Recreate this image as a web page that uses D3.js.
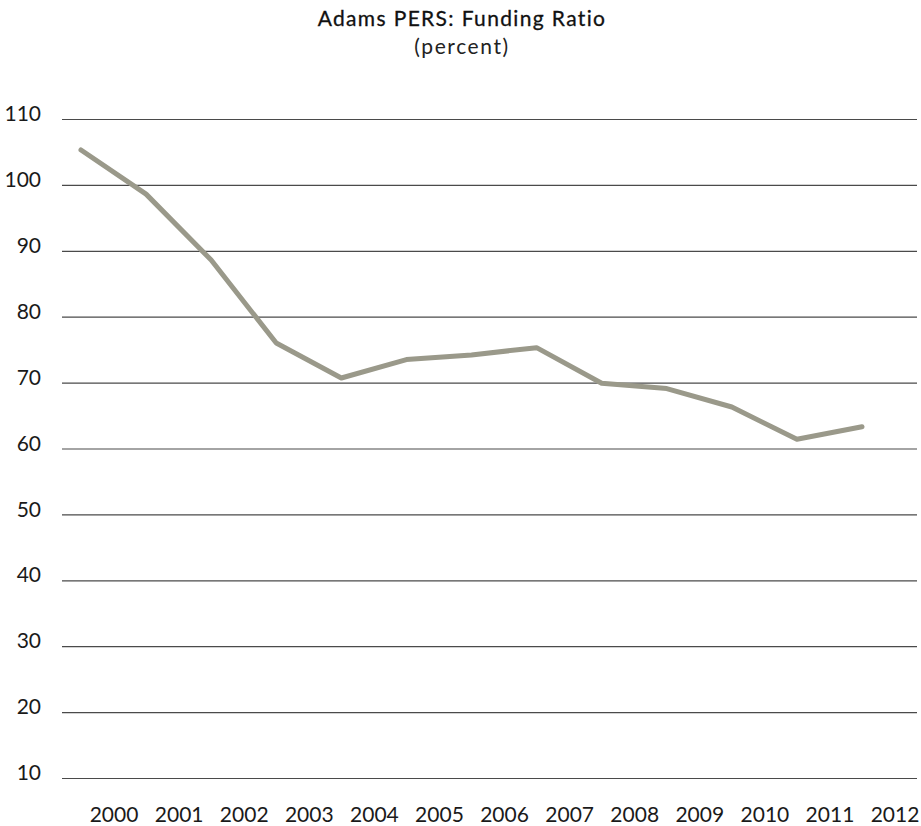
<!DOCTYPE html>
<html>
<head>
<meta charset="utf-8">
<script src="https://cdn.jsdelivr.net/npm/d3@7/dist/d3.min.js"></script>
<style>
  html, body { margin: 0; padding: 0; background: #ffffff; }
  svg { display: block; }
  text { font-family: Lato, "Open Sans", sans-serif; fill: #1a1a1a; }
</style>
</head>
<body>
<svg id="chart" width="921" height="826"></svg>
<script>
const years = ["2000","2001","2002","2003","2004","2005","2006","2007","2008","2009","2010","2011","2012"];
const fundingRatio = [105.3, 98.6, 88.6, 76.0, 70.7, 73.5, 74.2, 75.3, 69.9, 69.1, 66.3, 61.4, 63.3];
const yTicks = [10, 20, 30, 40, 50, 60, 70, 80, 90, 100, 110];
const title = "Adams PERS: Funding Ratio";
const subtitle = "(percent)";

const svg = d3.select("#chart");

const x = d3.scalePoint().domain(years).range([81, 862]);
const y = d3.scaleLinear().domain([10, 110]).range([778, 119]);
const gridLeft = 62, gridRight = 917;

// title
svg.append("text").attr("x", 462).attr("y", 26).attr("text-anchor", "middle")
  .style("font-size", "21px").style("letter-spacing", "1.35px")
  .style("fill", "#111").style("stroke", "#111").style("stroke-width", "0.3px")
  .text(title);
svg.append("text").attr("x", 462).attr("y", 54).attr("text-anchor", "middle")
  .style("font-size", "21px").style("letter-spacing", "1.6px")
  .style("fill", "#222").text(subtitle);

// y axis gridlines and labels
const yAxis = d3.axisLeft(y).tickValues(yTicks).tickSize(-(gridRight - gridLeft)).tickPadding(21);
const gy = svg.append("g").attr("transform", `translate(${gridLeft},0)`).call(yAxis);
gy.select(".domain").remove();
gy.selectAll(".tick line").attr("stroke", "#4a4a4a").attr("stroke-width", 1.2);
gy.selectAll(".tick text")
  .attr("dy", "0.08em")
  .style("font-size", "21px").style("font-family", "Lato, 'Open Sans', sans-serif")
  .attr("fill", "#1a1a1a");

// x axis labels (offset half a step to the right of the points)
const half = x.step() / 2;
const xAxis = d3.axisBottom(x).tickSize(0).tickPadding(0);
const gx = svg.append("g").attr("transform", `translate(${half},805)`).call(xAxis);
gx.select(".domain").remove();
gx.selectAll(".tick text")
  .attr("dy", "0.8em")
  .style("font-size", "21px").style("font-family", "Lato, 'Open Sans', sans-serif")
  .attr("fill", "#1a1a1a");

// line
const line = d3.line().x((d, i) => x(years[i])).y(d => y(d));
svg.append("path").datum(fundingRatio)
  .attr("d", line)
  .attr("fill", "none")
  .attr("stroke", "#9a998a")
  .attr("stroke-width", 5)
  .attr("stroke-linejoin", "round")
  .attr("stroke-linecap", "round");
</script>
</body>
</html>
